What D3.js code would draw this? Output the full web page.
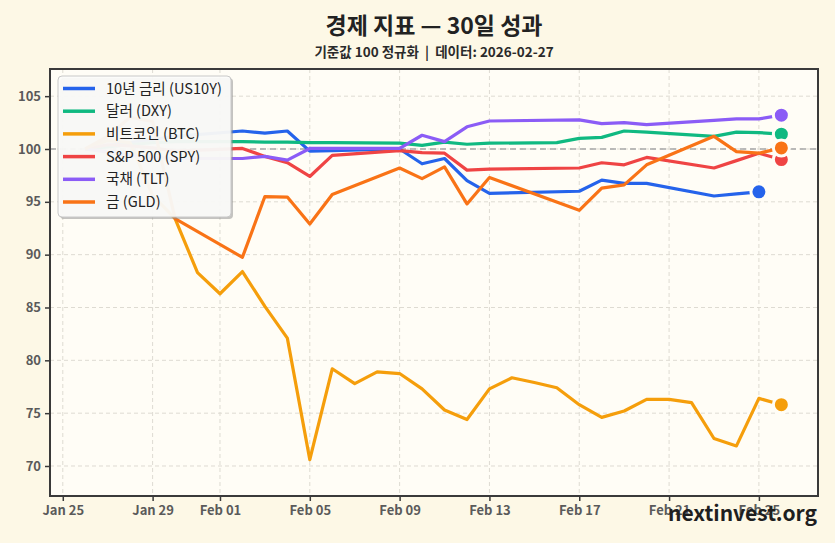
<!DOCTYPE html>
<html>
<head>
<meta charset="utf-8">
<title>경제 지표 — 30일 성과</title>
<script src="https://d3js.org/d3.v7.min.js"></script>
<style>
  body { margin: 0; background: #fdf8e6; }
  svg text { font-family: "Noto Sans CJK KR", "Noto Sans", sans-serif; }
</style>
</head>
<body>
<div id="chart"></div>
<script>
    // trading days (stocks, bonds, gold)
    const tradingDays = ["2026-01-26", "2026-01-27", "2026-01-28", "2026-01-29", "2026-01-30",
        "2026-02-02", "2026-02-03", "2026-02-04", "2026-02-05", "2026-02-06",
        "2026-02-09", "2026-02-10", "2026-02-11", "2026-02-12", "2026-02-13",
        "2026-02-17", "2026-02-18", "2026-02-19", "2026-02-20",
        "2026-02-23", "2026-02-24", "2026-02-25", "2026-02-26"];
    // dollar index also has Feb 16
    const dxyDays = ["2026-01-26", "2026-01-27", "2026-01-28", "2026-01-29", "2026-01-30",
        "2026-02-02", "2026-02-03", "2026-02-04", "2026-02-05", "2026-02-06",
        "2026-02-09", "2026-02-10", "2026-02-11", "2026-02-12", "2026-02-13",
        "2026-02-16",
        "2026-02-17", "2026-02-18", "2026-02-19", "2026-02-20",
        "2026-02-23", "2026-02-24", "2026-02-25", "2026-02-26"];
    // yields stop one day earlier
    const us10yDays = tradingDays.slice(0, 22);

    const us10y = [100.0, 100.3, 100.6, 100.9, 101.2, 101.7, 101.5, 101.7, 99.8, 99.85,
        100.0, 98.6, 99.1, 97.0, 95.8, 96.0, 97.05, 96.75, 96.75, 95.55, 95.75, 95.95];
    const dxy = [100.0, 100.2, 100.4, 100.6, 100.7, 100.7, 100.65, 100.65, 100.6, 100.6,
        100.55, 100.35, 100.65, 100.45, 100.55, 100.6, 101.0, 101.1, 101.7, 101.6,
        101.2, 101.6, 101.55, 101.4];
    const btc = [100.0, 100.8, 100.6, 95.6, 93.4, 88.3, 86.3,
        88.4, 85.1, 82.1, 70.6, 79.2, 77.8, 78.9,
        78.75, 77.3, 75.3, 74.4, 77.3, 78.35, 77.9,
        77.4, 75.8, 74.6, 75.2, 76.3, 76.3, 76.0,
        72.6, 71.9, 76.4, 75.8];
    const spy = [100.0, 100.4, 100.3, 100.1, 99.8, 100.05, 99.3, 98.7, 97.4, 99.4,
        99.85, 99.65, 99.6, 98.0, 98.1, 98.2, 98.7, 98.5, 99.2, 98.2, 98.9, 99.6, 99.0];
    const tlt = [100.0, 99.7, 99.4, 99.2, 99.1, 99.1, 99.3, 98.95, 100.05, 100.05,
        100.05, 101.3, 100.7, 102.1, 102.65, 102.75, 102.4, 102.5, 102.3, 102.7, 102.85, 102.85, 103.2];
    const gld = [100.0, 101.2, 103.0, 102.6, 93.4, 89.75, 95.5, 95.45, 92.9, 95.7,
        98.2, 97.2, 98.3, 94.8, 97.3, 94.2, 96.3, 96.6, 98.5, 101.2, 99.75, 99.6, 100.1];

    const xTickDates = ["2026-01-25", "2026-01-29", "2026-02-01", "2026-02-05", "2026-02-09",
        "2026-02-13", "2026-02-17", "2026-02-21", "2026-02-25"];
    const yTicks = [70, 75, 80, 85, 90, 95, 100, 105];

    const COLOR = {
        US10Y: "#2563eb",
        DXY: "#10b981",
        BTC: "#f59e0b",
        SPY: "#ef4444",
        TLT: "#8b5cf6",
        GLD: "#f97316"
    };

    const parse = d3.timeParse("%Y-%m-%d");
    const btcDays = d3.timeDay.range(new Date(2026, 0, 26), new Date(2026, 1, 27));

    const series = [
        { label: "10년 금리 (US10Y)", color: COLOR.US10Y, dates: us10yDays.map(parse), values: us10y },
        { label: "달러 (DXY)", color: COLOR.DXY, dates: dxyDays.map(parse), values: dxy },
        { label: "비트코인 (BTC)", color: COLOR.BTC, dates: btcDays, values: btc },
        { label: "S&P 500 (SPY)", color: COLOR.SPY, dates: tradingDays.map(parse), values: spy },
        { label: "국채 (TLT)", color: COLOR.TLT, dates: tradingDays.map(parse), values: tlt },
        { label: "금 (GLD)", color: COLOR.GLD, dates: tradingDays.map(parse), values: gld }
    ];
    series.forEach(function (s) {
        s.points = s.values.map(function (v, i) { return { date: s.dates[i], value: v }; });
    });

    const W = 835, H = 543;
    const plot = { left: 50, right: 818, top: 69, bottom: 496 };

    const svg = d3.select("#chart").append("svg")
        .attr("width", W)
        .attr("height", H);

    svg.append("rect").attr("width", W).attr("height", H).attr("fill", "#fdf8e6");
    svg.append("rect")
        .attr("x", plot.left).attr("y", plot.top)
        .attr("width", plot.right - plot.left).attr("height", plot.bottom - plot.top)
        .attr("fill", "#fffdf6");

    const x = d3.scaleTime()
        .domain([new Date(2026, 0, 24, 10, 20), new Date(2026, 1, 27, 15, 10)])
        .range([plot.left, plot.right]);
    const y = d3.scaleLinear()
        .domain([67.16, 107.57])
        .range([plot.bottom, plot.top]);

    // grid
    const grid = svg.append("g").attr("class", "grid");
    grid.selectAll(".vgrid").data(xTickDates.map(parse)).enter().append("line")
        .attr("x1", d => x(d)).attr("x2", d => x(d))
        .attr("y1", plot.top).attr("y2", plot.bottom)
        .attr("stroke", "#dedbd2").attr("stroke-width", 1).attr("stroke-dasharray", "4,3");
    grid.selectAll(".hgrid").data(yTicks).enter().append("line")
        .attr("x1", plot.left).attr("x2", plot.right)
        .attr("y1", d => y(d)).attr("y2", d => y(d))
        .attr("stroke", "#dedbd2").attr("stroke-width", 1).attr("stroke-dasharray", "4,3");

    // base 100 reference
    svg.append("line")
        .attr("x1", plot.left).attr("x2", plot.right)
        .attr("y1", y(100)).attr("y2", y(100))
        .attr("stroke", "#a8a8a8").attr("stroke-width", 1.3).attr("stroke-dasharray", "6,4");

    const line = d3.line()
        .x(d => x(d.date))
        .y(d => y(d.value));

    svg.append("g").selectAll("path").data(series).enter().append("path")
        .attr("d", d => line(d.points))
        .attr("fill", "none")
        .attr("stroke", d => d.color)
        .attr("stroke-width", 3.2)
        .attr("stroke-linejoin", "round");

    // end markers
    svg.append("g").selectAll("circle").data(series).enter().append("circle")
        .attr("cx", d => x(d.points[d.points.length - 1].date))
        .attr("cy", d => y(d.points[d.points.length - 1].value))
        .attr("r", 8)
        .attr("fill", d => d.color)
        .attr("stroke", "#fffdf6")
        .attr("stroke-width", 3);

    // frame
    svg.append("rect")
        .attr("x", plot.left).attr("y", plot.top)
        .attr("width", plot.right - plot.left).attr("height", plot.bottom - plot.top)
        .attr("fill", "none").attr("stroke", "#3a3a3a").attr("stroke-width", 2);

    // axes
    const xAxis = svg.append("g")
        .attr("transform", "translate(0," + plot.bottom + ")")
        .call(d3.axisBottom(x)
            .tickValues(xTickDates.map(parse))
            .tickFormat(d3.timeFormat("%b %d"))
            .tickSize(5).tickPadding(5));
    const yAxis = svg.append("g")
        .attr("transform", "translate(" + plot.left + ",0)")
        .call(d3.axisLeft(y).tickValues(yTicks).tickSize(5).tickPadding(4));
    [xAxis, yAxis].forEach(function (a) {
        a.select(".domain").remove();
        a.selectAll(".tick line").attr("stroke", "#3a3a3a").attr("stroke-width", 1.5);
        a.selectAll(".tick text")
            .attr("fill", "#5a5a5a")
            .style("font-size", "13px")
            .style("font-weight", "600")
            .style("font-family", "'Noto Sans CJK KR', sans-serif");
    });

    // legend
    const legend = svg.append("g").attr("transform", "translate(58,76)");
    legend.append("rect")
        .attr("x", 2).attr("y", 2).attr("width", 173).attr("height", 141).attr("rx", 4)
        .attr("fill", "#8a8a8a").attr("opacity", 0.5);
    legend.append("rect")
        .attr("width", 173).attr("height", 141).attr("rx", 4)
        .attr("fill", "#fcfcfa").attr("fill-opacity", 0.93)
        .attr("stroke", "#c8c8c8").attr("stroke-width", 1);
    const item = legend.selectAll(".item").data(series).enter().append("g")
        .attr("transform", (d, i) => "translate(0," + (12.5 + i * 22.7) + ")");
    item.append("line")
        .attr("x1", 5).attr("x2", 37)
        .attr("stroke", d => d.color).attr("stroke-width", 3.5);
    item.append("text")
        .attr("x", 48).attr("dy", "0.35em")
        .attr("fill", "#222")
        .style("font-size", "14.6px")
        .text(d => d.label);

    // titles
    svg.append("text")
        .attr("x", (plot.left + plot.right) / 2).attr("y", 34)
        .attr("text-anchor", "middle")
        .attr("fill", "#222")
        .style("font-size", "23px").style("font-weight", "bold")
        .text("경제 지표 — 30일 성과");
    svg.append("text")
        .attr("x", (plot.left + plot.right) / 2).attr("y", 57)
        .attr("text-anchor", "middle")
        .attr("fill", "#2a2a2a")
        .style("font-size", "13.5px").style("font-weight", "bold")
        .style("white-space", "pre")
        .text("기준값 100 정규화  |  데이터: 2026-02-27");

    // watermark (overlaps the last tick labels, as in the original)
    svg.append("text")
        .attr("x", 817).attr("y", 521)
        .attr("text-anchor", "end")
        .attr("fill", "#1f1f1f")
        .style("font-size", "21px").style("font-weight", "bold")
        .text("nextinvest.org");
</script>
</body>
</html>
